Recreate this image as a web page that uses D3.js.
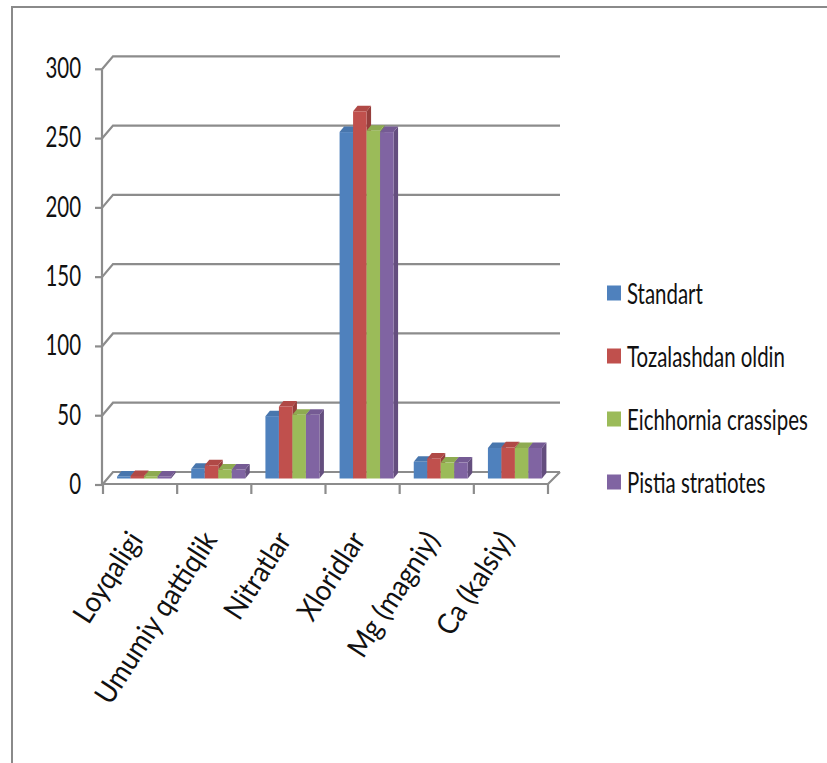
<!DOCTYPE html>
<html>
<head>
<meta charset="utf-8">
<script src="https://cdn.jsdelivr.net/npm/d3@7"></script>
<style>
  html, body { margin: 0; padding: 0; background: #fff; }
  text { font-family: Lato, "Open Sans", sans-serif; fill: #111; }
</style>
</head>
<body>
<div id="chart"></div>
<script>
var width = 827, height = 763;

// data
const categories = ["Loyqaligi", "Umumiy qattiqlik", "Nitratlar", "Xloridlar", "Mg (magniy)", "Ca (kalsiy)"];
const seriesNames = ["Standart", "Tozalashdan oldin", "Eichhornia crassipes", "Pistia stratiotes"];
const standart    = [1.5, 7,   45, 250, 12,   22];
const tozalashdan = [1.8, 9.5, 52, 265, 14.5, 22.5];
const eichhornia  = [1.5, 6.5, 46, 251, 11.5, 22];
const pistia      = [1.5, 6.5, 46, 250, 11.5, 22];
const yTicks = [0, 50, 100, 150, 200, 250, 300];

const seriesValues = [standart, tozalashdan, eichhornia, pistia];
const colors = ["#4F81BD", "#C0504D", "#9BBB59", "#8064A2"];

const sx = 0.73;          // text in the picture is squeezed sideways
const labSx = 0.92;
const fontSize = 28;
const labFont = 29;
const wallDx = 11, wallDy = -13;   // depth of the back wall
const barDx = 4.5, barDy = -5.5;   // depth of one bar

const svg = d3.select("#chart").append("svg")
    .attr("width", width)
    .attr("height", height);

// outer frame
svg.append("rect")
    .attr("x", 12).attr("y", 7)
    .attr("width", 900).attr("height", 900)
    .attr("fill", "none")
    .attr("stroke", "#8a8a8a")
    .attr("stroke-width", 2);

const y = d3.scaleLinear().domain([0, 300]).range([485, 69.3]);
const x0 = d3.scaleBand().domain(categories).range([103, 548]).padding(0);
const groupW = 54;
const x1 = d3.scaleBand().domain(seriesNames).range([0, groupW]).padding(0);
const groupOff = (x0.bandwidth() - groupW) / 2 + 4;

const axisColor = "#8c8c8c";

// back wall gridlines
const grid = svg.append("g");
yTicks.forEach(function(t) {
  grid.append("path")
      .attr("d", d3.line()([[102, y(t)], [102 + wallDx, y(t) + wallDy], [560, y(t) + wallDy]]))
      .attr("fill", "none")
      .attr("stroke", axisColor)
      .attr("stroke-width", 2.2);
});

// floor front edge + right edge
svg.append("path")
    .attr("d", d3.line()([[102, y(0) - 1], [548, y(0) - 1], [560, y(0) + wallDy]]))
    .attr("fill", "none")
    .attr("stroke", axisColor)
    .attr("stroke-width", 2.2);

// y axis line and ticks
svg.append("line")
    .attr("x1", 102).attr("x2", 102)
    .attr("y1", y(300)).attr("y2", y(0) + 1)
    .attr("stroke", axisColor).attr("stroke-width", 2.2);

svg.selectAll(".ytick")
  .data(yTicks)
  .join("line")
    .attr("class", "ytick")
    .attr("x1", 95).attr("x2", 102)
    .attr("y1", d => y(d)).attr("y2", d => y(d))
    .attr("stroke", axisColor).attr("stroke-width", 2.2);

svg.selectAll(".ylab")
  .data(yTicks)
  .join("text")
    .attr("class", "ylab")
    .attr("transform", d => "translate(81," + (y(d) - 2) + ") scale(" + sx + ",1)")
    .attr("text-anchor", "end")
    .attr("dominant-baseline", "central")
    .style("font-size", fontSize + "px")
    .text(d => d);

// x ticks at category boundaries
const bounds = categories.map(c => x0(c)).concat([x0.range()[1]]);
svg.selectAll(".xtick")
  .data(bounds)
  .join("line")
    .attr("class", "xtick")
    .attr("x1", d => d).attr("x2", d => d)
    .attr("y1", y(0) - 1).attr("y2", y(0) + 9)
    .attr("stroke", axisColor).attr("stroke-width", 2.2);

// bars
function shade(c, k) {
  return k > 0 ? d3.color(c).brighter(k).formatHex() : d3.color(c).darker(-k).formatHex();
}

const bars = svg.append("g");
const yb = y(0) - 6.5;
categories.forEach(function(cat, ci) {
  seriesNames.forEach(function(s, si) {
    const v = seriesValues[si][ci];
    const bx = x0(cat) + groupOff + x1(s);
    const bw = x1.bandwidth();
    const yt = y(v) - 6.5;
    const col = colors[si];
    const g = bars.append("g");
    g.append("polygon")
        .attr("points", [[bx + bw, yt], [bx + bw + barDx, yt + barDy], [bx + bw + barDx, yb + barDy], [bx + bw, yb]].join(" "))
        .attr("fill", shade(col, -0.7));
    g.append("polygon")
        .attr("points", [[bx, yt], [bx + barDx, yt + barDy], [bx + bw + barDx, yt + barDy], [bx + bw, yt]].join(" "))
        .attr("fill", shade(col, -0.25));
    g.append("rect")
        .attr("x", bx).attr("y", yt)
        .attr("width", bw).attr("height", yb - yt)
        .attr("fill", col);
  });
});

// category labels, rotated
svg.selectAll(".xlab")
  .data(categories)
  .join("text")
    .attr("class", "xlab")
    .attr("transform", d => "translate(" + (x0(d) + x0.bandwidth() / 2 + 4) + ",540) rotate(-57) scale(" + labSx + ",1)")
    .attr("text-anchor", "end")
    .style("font-size", labFont + "px")
    .text(d => d);

// legend
const legend = svg.append("g");
seriesNames.forEach(function(s, i) {
  const ly = 293 + i * 63;
  legend.append("rect")
      .attr("x", 607).attr("y", ly - 7.5)
      .attr("width", 14).attr("height", 15)
      .attr("fill", colors[i]);
  legend.append("text")
      .attr("transform", "translate(627," + ly + ") scale(" + sx + ",1)")
      .attr("dominant-baseline", "central")
      .style("font-size", fontSize + "px")
      .text(s);
});
</script>
</body>
</html>
